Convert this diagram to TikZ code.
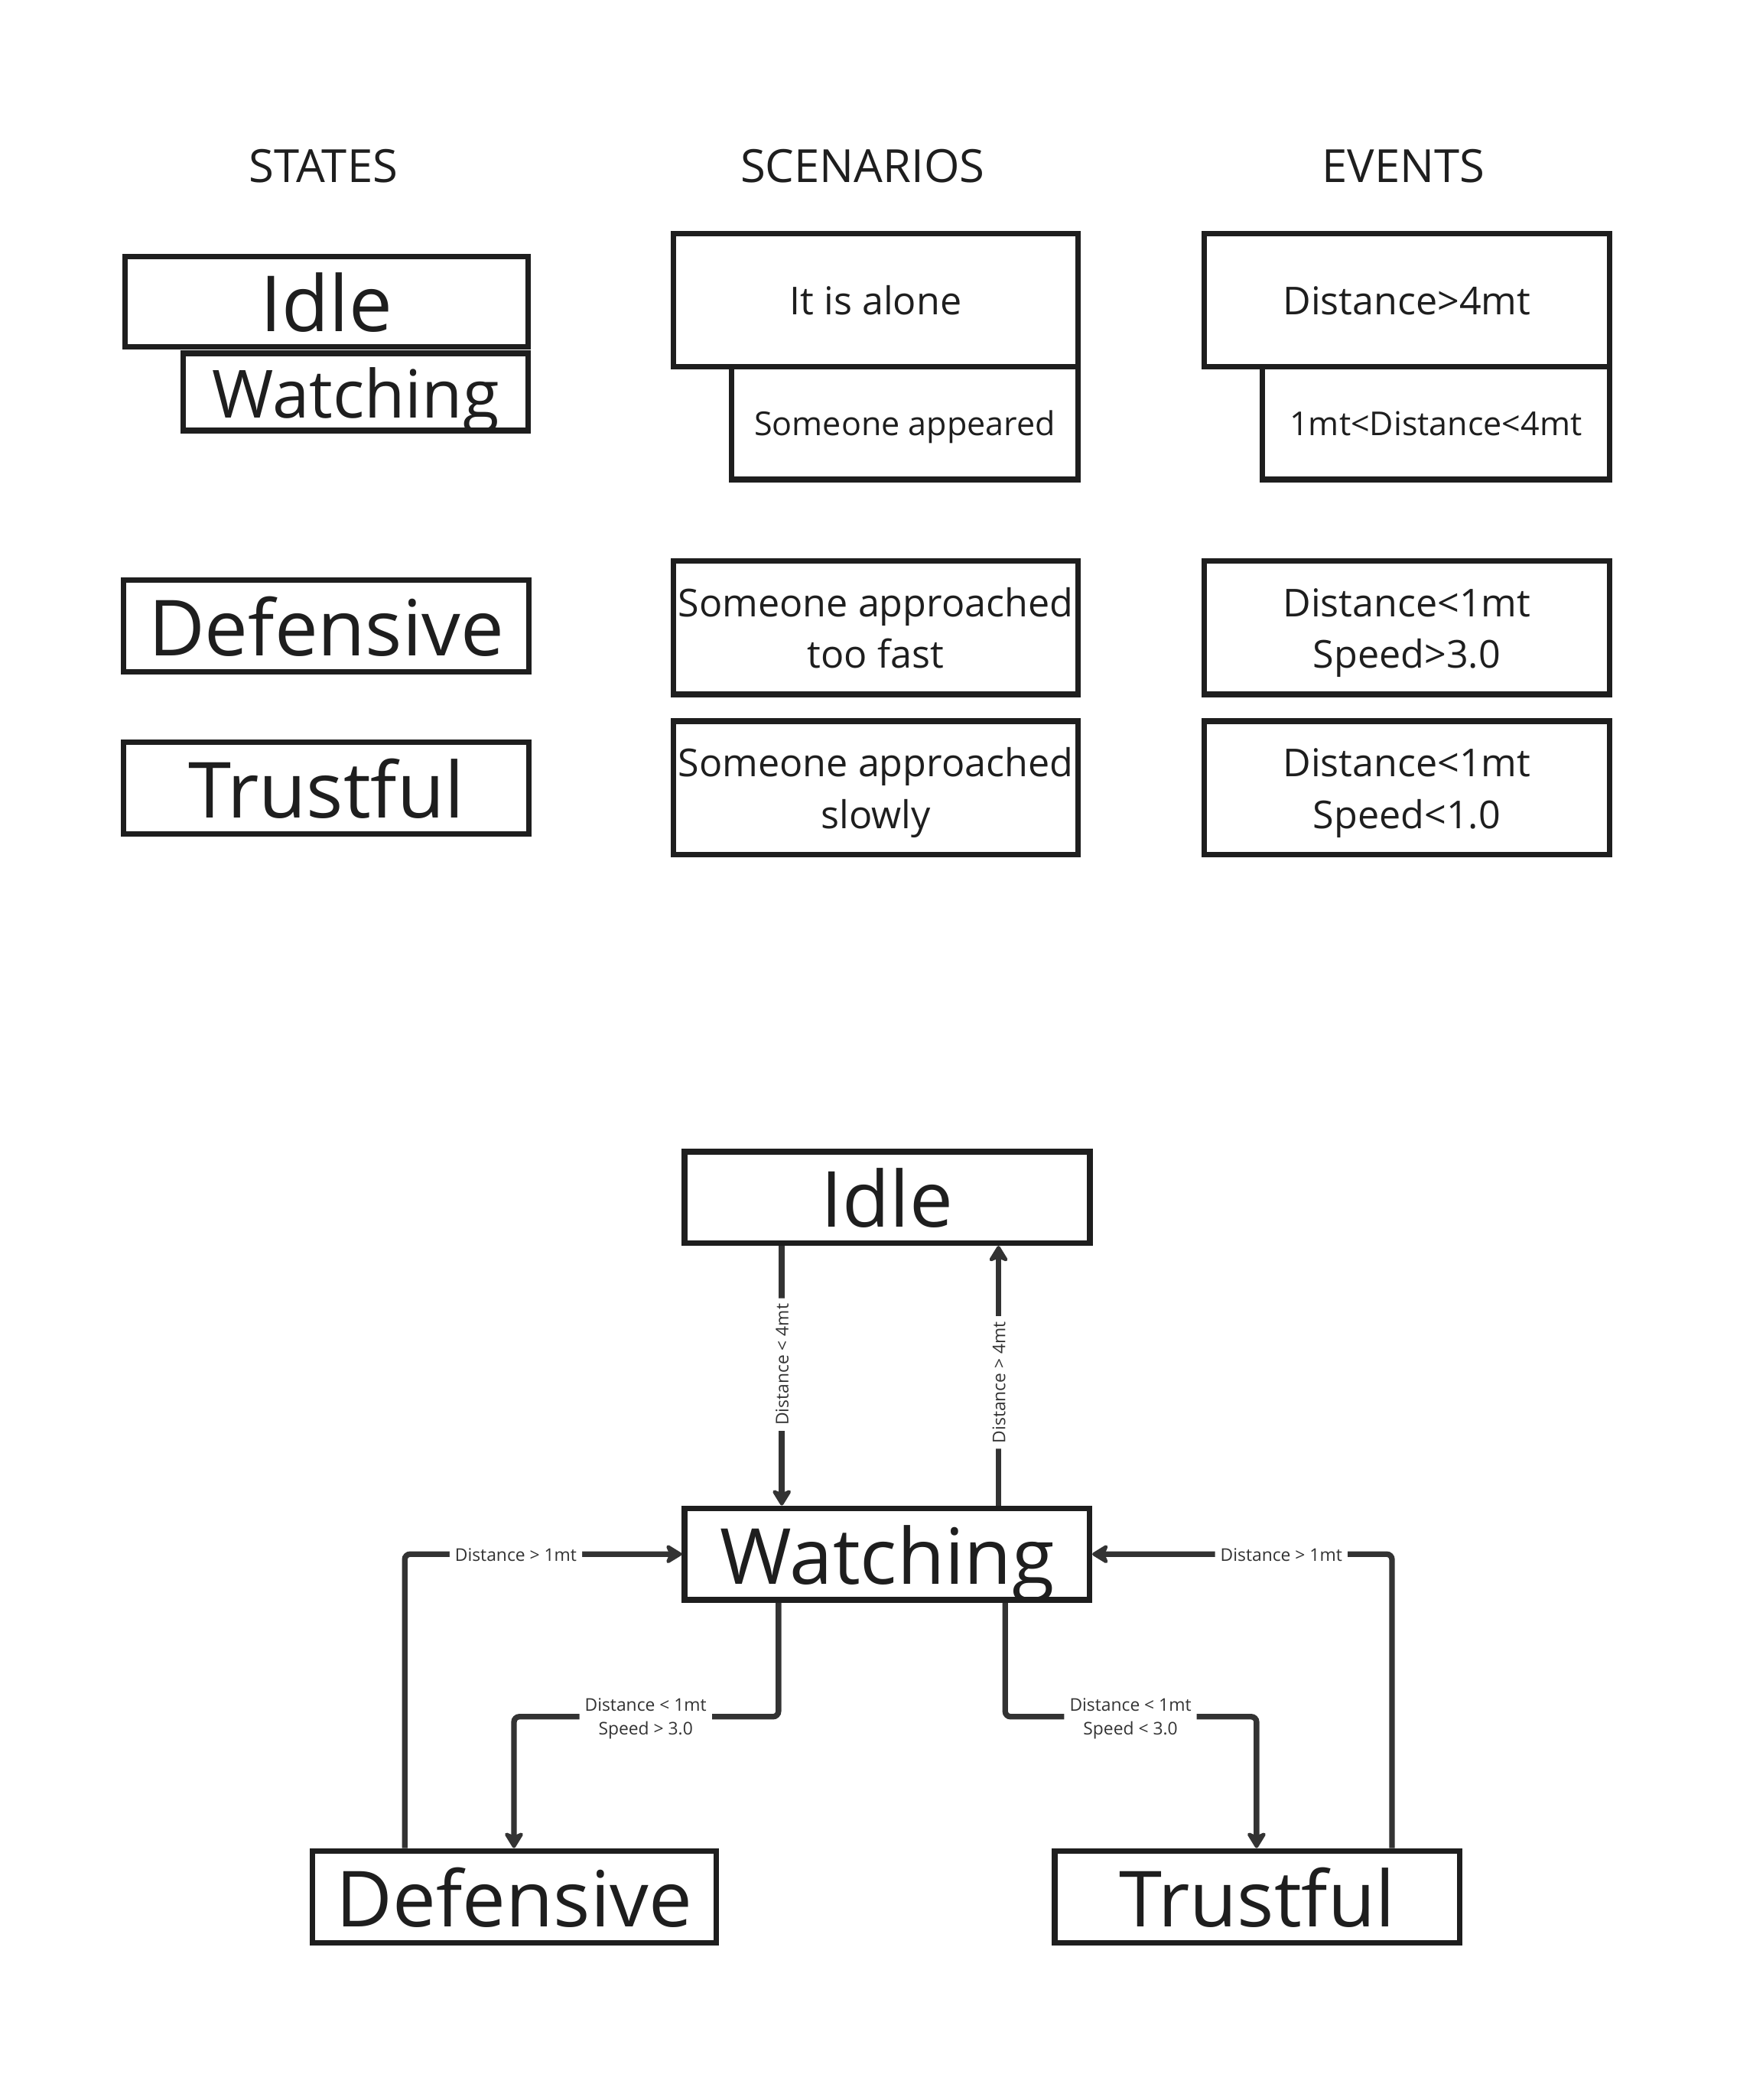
\documentclass[tikz,border=0pt]{standalone}
\usepackage{fontspec}
\setmainfont{Open Sans}
\usetikzlibrary{arrows.meta}
\definecolor{ink}{HTML}{1E1E1E}
\definecolor{lc}{HTML}{333333}
\newcommand\twol[2]{\begin{tabular}[t]{@{}c@{}}#1\\#2\end{tabular}}
\begin{document}
\begin{tikzpicture}[x=0.0175cm, y=-0.0175cm,
  box/.style 2 args={draw=ink, line width=2.1pt, inner sep=0pt, text=ink,
    minimum width=#1*0.0175cm, minimum height=#2*0.0175cm},
  bigtext/.style={font=\fontsize{28.8pt}{35pt}\selectfont, text height=22.3pt, text depth=0pt},
  midtext/.style={font=\fontsize{24.7pt}{30pt}\selectfont, text height=19.2pt, text depth=0pt},
  scentext/.style={font=\fontsize{14.3pt}{19.2pt}\selectfont, text height=11pt, text depth=0pt},
  scentwo/.style={font=\fontsize{14.3pt}{19.2pt}\selectfont, text height=0pt, text depth=8.3pt},
  smalltext/.style={font=\fontsize{12.25pt}{15pt}\selectfont, text height=9.5pt, text depth=0pt},
  head/.style={font=\fontsize{17pt}{21pt}\selectfont, text=ink, inner sep=0pt, anchor=base},
  conn/.style={draw=lc, line width=2.1pt, rounded corners=2pt,
    -{Stealth[length=7pt,width=8.5pt,inset=1.8pt,round]}},
  lbl/.style={fill=white, text=lc, inner xsep=2pt, inner ysep=1.5pt,
    font=\fontsize{6.5pt}{8.9pt}\selectfont, text height=5pt, text depth=0pt},
  lbltwo/.style={lbl, text height=0pt, text depth=4.4pt},
  lblrot/.style={lbl, rotate=90},
]
\useasboundingbox (0,0) rectangle (1300,1569.14);

% headers
\node[head] (hstates) at (241.6,136.2) {STATES};
\node[head] (hscen) at (644.5,136.2) {SCENARIOS};
\node[head] (hevents) at (1048.5,136.2) {EVENTS};

% states column
\node[box={301.2}{67.3}, bigtext] (sidle) at (244,225.35) {Idle};
\node[box={257.6}{57.7}, midtext] (swatch) at (265.8,292.85) {Watching};
\node[box={302.9}{68.5}, bigtext] (sdef) at (243.85,467.75) {Defensive};
\node[box={302.9}{68.4}, bigtext] (strust) at (243.85,588.8) {Trustful};

% scenarios column
\node[box={302.5}{99.5}, scentext] (alone) at (654.25,224.25) {It is alone};
\node[box={258.9}{84.2}, smalltext] (appeared) at (676.05,316.1) {Someone appeared};
\node[box={302.5}{99.8}, scentwo] (fast) at (654.25,468.9) {\twol{Someone approached}{too fast}};
\node[box={302.5}{99.8}, scentwo] (slow) at (654.25,588.7) {\twol{Someone approached}{slowly}};

% events column
\node[box={302.8}{99.5}, scentext] (far) at (1051.1,224.25) {Distance>4mt};
\node[box={259.5}{84.2}, smalltext] (between) at (1072.75,316.1) {1mt<Distance<4mt};
\node[box={302.8}{99.8}, scentwo] (nearfast) at (1051.1,468.9) {\twol{Distance<1mt}{Speed>3.0}};
\node[box={302.8}{99.8}, scentwo] (nearslow) at (1051.1,588.7) {\twol{Distance<1mt}{Speed<1.0}};

% state machine
\node[box={302.7}{68.2}, bigtext] (idle) at (662.85,894.7) {Idle};
\node[box={302.5}{68.5}, bigtext] (watch) at (662.75,1161.25) {Watching};
\node[box={301.4}{68.7}, bigtext] (def) at (384.3,1417.35) {Defensive};
\node[box={302.4}{68.7}, bigtext] (trust) at (939.2,1417.35) {Trustful};

\draw[conn] (idle.south -| 584.1,0) -- node[lblrot, pos=0.457] (l1) {Distance < 4mt} (watch.north -| 584.1,0);
\draw[conn] (watch.north -| 746,0) -- node[lblrot, pos=0.474] (l2) {Distance > 4mt} (idle.south -| 746,0);
\draw[conn] (def.north -| 302.4,0) |- (385.4,1161.25) node[lbl] (l3) {Distance > 1mt} -- (watch.west);
\draw[conn] (trust.north -| 1040,0) |- (957.3,1161.25) node[lbl] (l4) {Distance > 1mt} -- (watch.east);
\draw[conn] (watch.south -| 581.6,0) |- (482.4,1282.7) node[lbltwo] (l5) {\twol{Distance < 1mt}{Speed > 3.0}} -| (def.north -| 384,0);
\draw[conn] (watch.south -| 751,0) |- (844.6,1282.7) node[lbltwo] (l6) {\twol{Distance < 1mt}{Speed < 3.0}} -| (trust.north -| 938.8,0);
\end{tikzpicture}
\end{document}
